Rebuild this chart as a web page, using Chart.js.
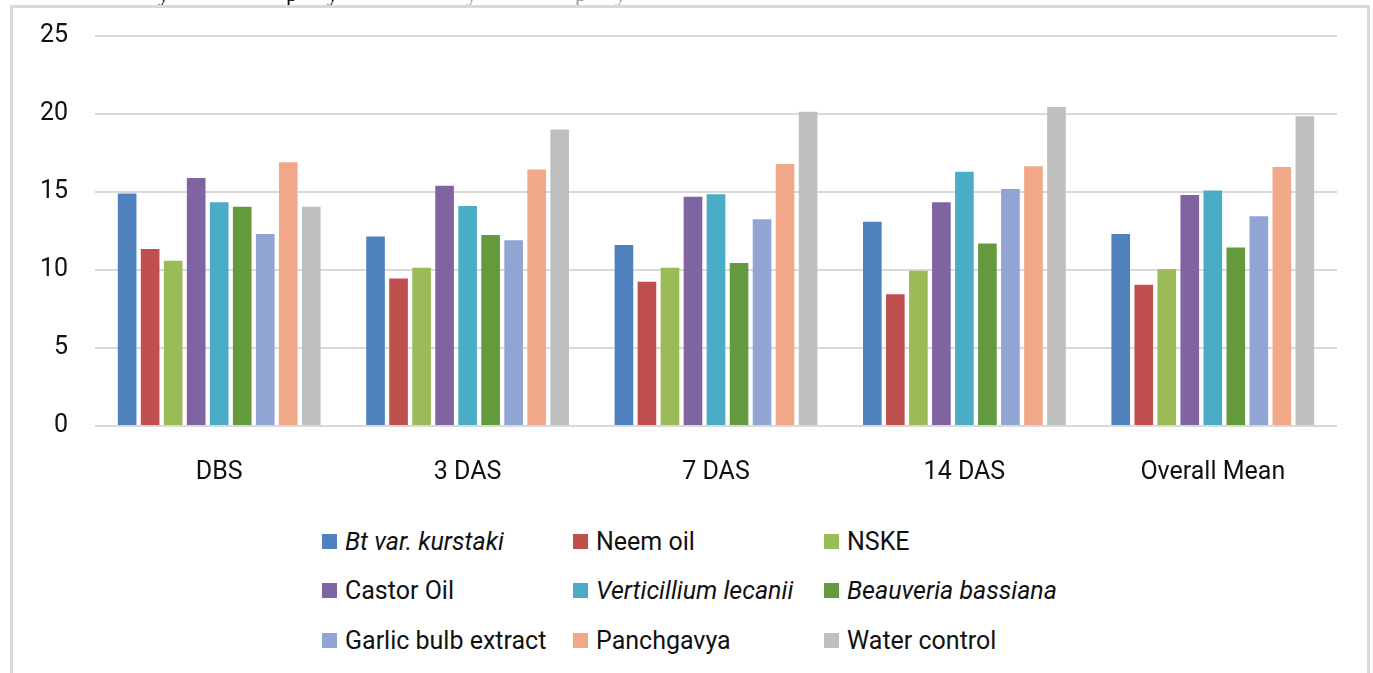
<!DOCTYPE html>
<html>
<head>
<meta charset="utf-8">
<script src="https://cdn.jsdelivr.net/npm/chart.js@4.4.1/dist/chart.umd.min.js"></script>
<style>
  html, body { margin: 0; padding: 0; background: #fff; }
  #wrap { position: relative; width: 1373px; height: 673px; overflow: hidden; background: #fff; font-family: Roboto, "Liberation Sans", sans-serif; }
  #frame { position: absolute; left: 10px; top: 5px; width: 1354px; height: 700px; border: 3px solid #d9d9d9; border-bottom: none; }
  #chart { position: absolute; left: 0; top: 0; }
  #caption { position: absolute; left: 0; top: 0; width: 1373px; height: 5px; overflow: hidden; }
  #caption span { position: absolute; top: -19px; font-family: "Liberation Serif", serif; font-size: 22px; color: #000; }
  #caption span.hl { color: #9a9a9a; }
  #legend { position: absolute; left: 0; top: 0; width: 1373px; }
  .li { position: absolute; display: flex; align-items: center; height: 30px; font-size: 25px; color: #111; white-space: nowrap; }
  .li i.box { display: inline-block; width: 15px; height: 15px; margin-right: 8px; }
</style>
</head>
<body>
<div id="wrap">
  <div id="caption">
    <span style="left:158px">y</span>
    <span style="left:286px">p</span>
    <span style="left:327px">y</span>
    <span class="hl" style="left:466px">y</span>
    <span class="hl" style="left:575px">p</span>
    <span class="hl" style="left:615px">y</span>
  </div>
  <div id="frame"></div>
  <canvas id="chart" width="1373" height="500"></canvas>
  <div id="legend"></div>
</div>
<script>
// ---- data ----
const categories = ["DBS", "3 DAS", "7 DAS", "14 DAS", "Overall Mean"];
const yTicks = [0, 5, 10, 15, 20, 25];

const seriesNames = [
  "Bt var. kurstaki", "Neem oil", "NSKE",
  "Castor Oil", "Verticillium lecanii", "Beauveria bassiana",
  "Garlic bulb extract", "Panchgavya", "Water control"
];
const seriesItalic = [true, false, false, false, true, true, false, false, false];
const seriesColors = [
  "#4f81bd", "#c0504d", "#9bbb59",
  "#8064a2", "#4bacc6", "#629a3d",
  "#91a5d5", "#f0a889", "#bfbfbf"
];

const btKurstaki      = [14.9, 12.15, 11.6, 13.1, 12.3];
const neemOil         = [11.35, 9.45, 9.25, 8.45, 9.05];
const nske            = [10.6, 10.15, 10.15, 9.95, 10.05];
const castorOil       = [15.9, 15.4, 14.7, 14.35, 14.8];
const verticillium    = [14.35, 14.1, 14.85, 16.3, 15.1];
const beauveria       = [14.05, 12.25, 10.45, 11.7, 11.45];
const garlicExtract   = [12.3, 11.9, 13.25, 15.2, 13.45];
const panchgavya      = [16.9, 16.45, 16.8, 16.65, 16.6];
const waterControl    = [14.05, 19.0, 20.15, 20.45, 19.85];

const seriesValues = [btKurstaki, neemOil, nske, castorOil, verticillium, beauveria, garlicExtract, panchgavya, waterControl];

// ---- chart ----
const FONT = { family: "Roboto, 'Liberation Sans', sans-serif", size: 25 };

new Chart(document.getElementById("chart"), {
  type: "bar",
  data: {
    labels: categories,
    datasets: seriesNames.map((name, i) => ({
      label: name,
      data: seriesValues[i],
      backgroundColor: seriesColors[i],
      borderWidth: 0,
      categoryPercentage: 0.834,
      barPercentage: 0.81
    }))
  },
  options: {
    responsive: false,
    devicePixelRatio: 1,
    animation: false,
    layout: { padding: { top: 36, right: 36, left: 0, bottom: 0 } },
    plugins: { legend: { display: false }, tooltip: { enabled: false } },
    scales: {
      x: {
        grid: { display: false },
        border: { display: false },
        ticks: { color: "#111", font: FONT, padding: 24, maxRotation: 0 },
        afterFit: s => { s.height = 74; }
      },
      y: {
        min: 0, max: 25,
        afterBuildTicks: s => { s.ticks = yTicks.map(v => ({ value: v })); },
        grid: { color: "#d9d9d9", lineWidth: 2, drawTicks: false },
        border: { display: false },
        ticks: { color: "#111", font: FONT, padding: 27 },
        afterFit: s => { s.width = 95; s.paddingTop = 0; s.paddingBottom = 0; }
      }
    }
  }
});

// ---- legend (3 x 3 grid) ----
const legendCols = [322, 573, 824];
const legendRows = [541, 590, 640];
const legend = document.getElementById("legend");
seriesNames.forEach((name, i) => {
  const d = document.createElement("div");
  d.className = "li";
  d.style.left = legendCols[i % 3] + "px";
  d.style.top = (legendRows[Math.floor(i / 3)] - 15) + "px";
  const b = document.createElement("i");
  b.className = "box";
  b.style.background = seriesColors[i];
  const t = document.createElement("span");
  t.textContent = name;
  if (seriesItalic[i]) t.style.fontStyle = "italic";
  d.appendChild(b);
  d.appendChild(t);
  legend.appendChild(d);
});
</script>
</body>
</html>
